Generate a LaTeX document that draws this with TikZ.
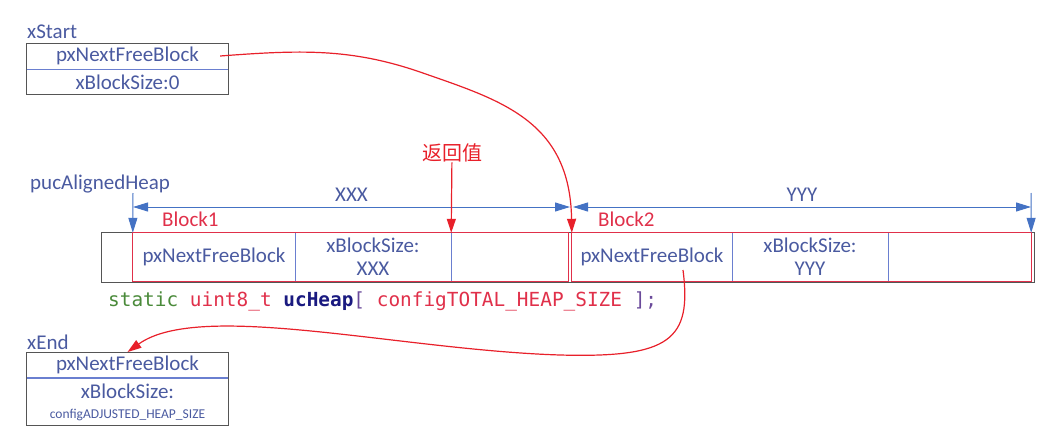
\documentclass[tikz,border=0pt]{standalone}
\usepackage{fontspec}
\setmainfont{Carlito}
\newfontfamily\cjk{Noto Sans CJK SC}
\newfontfamily\codefont{DejaVu Sans Mono}
\usetikzlibrary{positioning,arrows.meta}
\definecolor{txtblue}{HTML}{4A5AA0}
\definecolor{boxgray}{HTML}{555555}
\definecolor{divblue}{HTML}{6A7FD0}
\definecolor{dimblue}{HTML}{4472C4}
\definecolor{ptrred}{HTML}{E8202A}
\definecolor{blkred}{HTML}{E0304A}
\definecolor{codegreen}{HTML}{4A8A3A}
\definecolor{codenavy}{HTML}{1A1A80}
\definecolor{codepurple}{HTML}{6A4A9A}
\tikzset{basic/.style={inner sep=0pt,text=txtblue,font=\fontsize{21}{23}\selectfont}}
\tikzset{row/.style={basic,minimum width=201pt,minimum height=25.5pt}}
\tikzset{cell/.style={basic,minimum height=48pt,align=center,font=\fontsize{21}{23}\selectfont}}
\tikzset{tag/.style={basic,anchor=base west,font=\fontsize{21}{23}\selectfont}}
\tikzset{redtag/.style={tag,text=blkred}}
\tikzset{divider/.style={divblue,line width=0.8pt}}
\tikzset{dim/.style={dimblue,line width=1pt,{Triangle[width=9pt,length=15pt]}-{Triangle[width=9pt,length=15pt]}}}
\tikzset{down/.style={dimblue,line width=1pt,-{Triangle[width=9pt,length=15pt]}}}
\tikzset{pointer/.style={ptrred,line width=1.2pt,-{Triangle[width=9pt,length=14pt]}}}

\begin{document}
\begin{tikzpicture}[x=1pt,y=-1pt]
        \useasboundingbox (0,0) rectangle (1042,439);
        % xStart
        \node[tag] (ls) at (27,38) {xStart};
        \node[row] (s1) at (127.5,56) {pxNextFreeBlock};
        \node[row,below=0pt of s1] (s2) {xBlockSize:0};
        \draw[boxgray,line width=0.8pt] (s1.north west) rectangle (s2.south east);
        \draw[divider] (s1.south west) -- (s1.south east);
        % the heap
        \node[draw=boxgray,line width=0.8pt,minimum width=933pt,minimum height=50pt] (heap) at (567.5,257) {};
        \node[cell,minimum width=162pt] (c11) at (214,257) {pxNextFreeBlock};
        \node[cell,minimum width=156pt] (c12) at (373,257) {xBlockSize:\\XXX};
        \node[cell,minimum width=117pt] (c13) at (509.5,257) {};
        \node[cell,minimum width=160pt] (c21) at (652,257) {pxNextFreeBlock};
        \node[cell,minimum width=156pt] (c22) at (810,257) {xBlockSize:\\YYY};
        \node[cell,minimum width=143pt] (c23) at (959.5,257) {};
        \draw[divider] (c11.north east) -- (c11.south east);
        \draw[divider] (c12.north east) -- (c12.south east);
        \draw[divider] (c21.north east) -- (c21.south east);
        \draw[divider] (c22.north east) -- (c22.south east);
        \draw[blkred,line width=1pt] (c11.north west) rectangle (c13.south east);
        \draw[blkred,line width=1pt] (c21.north west) rectangle (c23.south east);
        \node[redtag] (b1) at (162,226) {Block1};
        \node[redtag] (b2) at (598,226) {Block2};
        % sizes
        \node[tag] (lh) at (30,189) {pucAlignedHeap};
        \coordinate (a0) at (133,207);
        \coordinate (a1) at (570,207);
        \coordinate (a2) at (573,207);
        \coordinate (a3) at (1031,207);
        \draw[dim] (a0) -- node[basic,above=5pt] (xxx) {XXX} (a1);
        \draw[dim] (a2) -- node[basic,above=5pt] (yyy) {YYY} (a3);
        \coordinate (h0) at (133,193);
        \coordinate (h1) at (1031,193);
        \draw[down] (h0) -- (c11.north west);
        \draw[down] (h1) -- (c23.north east);
        % return value
        \node[basic,text=ptrred,font=\cjk\fontsize{20}{22}\selectfont] (ret) at (452,153) {返回值};
        \path[draw,pointer] (ret) -- (c12.north east);
        % code line
        \node[anchor=base west,inner sep=0pt,font=\codefont\fontsize{19.4}{22}\selectfont] (code) at (108,306)
            {\textcolor{codegreen}{static} \textcolor{blkred}{uint8\_t} \textcolor{codenavy}{\bfseries ucHeap}\textcolor{codepurple}{[} \textcolor{blkred}{configTOTAL\_HEAP\_SIZE} \textcolor{codepurple}{];}};
        % xEnd
        \node[tag] (le) at (27,349) {xEnd};
        \node[row] (e1) at (127.5,365) {pxNextFreeBlock};
        \node[row,below=0pt of e1] (e2) {xBlockSize:};
        \node[basic,below=0pt of e2,font=\fontsize{13.5}{15}\selectfont,minimum height=21pt] (e3) {configADJUSTED\_HEAP\_SIZE};
        \draw[boxgray,line width=0.8pt] (e1.north west) rectangle (e2.east |- e3.south);
        \draw[divider,line width=1.2pt] (e1.south west) -- (e1.south east);
        % free list
        \coordinate (p1) at (683,270);
        \draw[pointer] ([xshift=-8pt]s1.east) .. controls (300,50) and (350,48) .. (420,72)
            .. controls (500,100) and (570,120) .. (c21.north west);
        \draw[pointer] (p1) .. controls (692,340) and (670,358) .. (560,355)
            .. controls (400,350) and (200,300) .. (e1.north);
    \end{tikzpicture}
\end{document}
